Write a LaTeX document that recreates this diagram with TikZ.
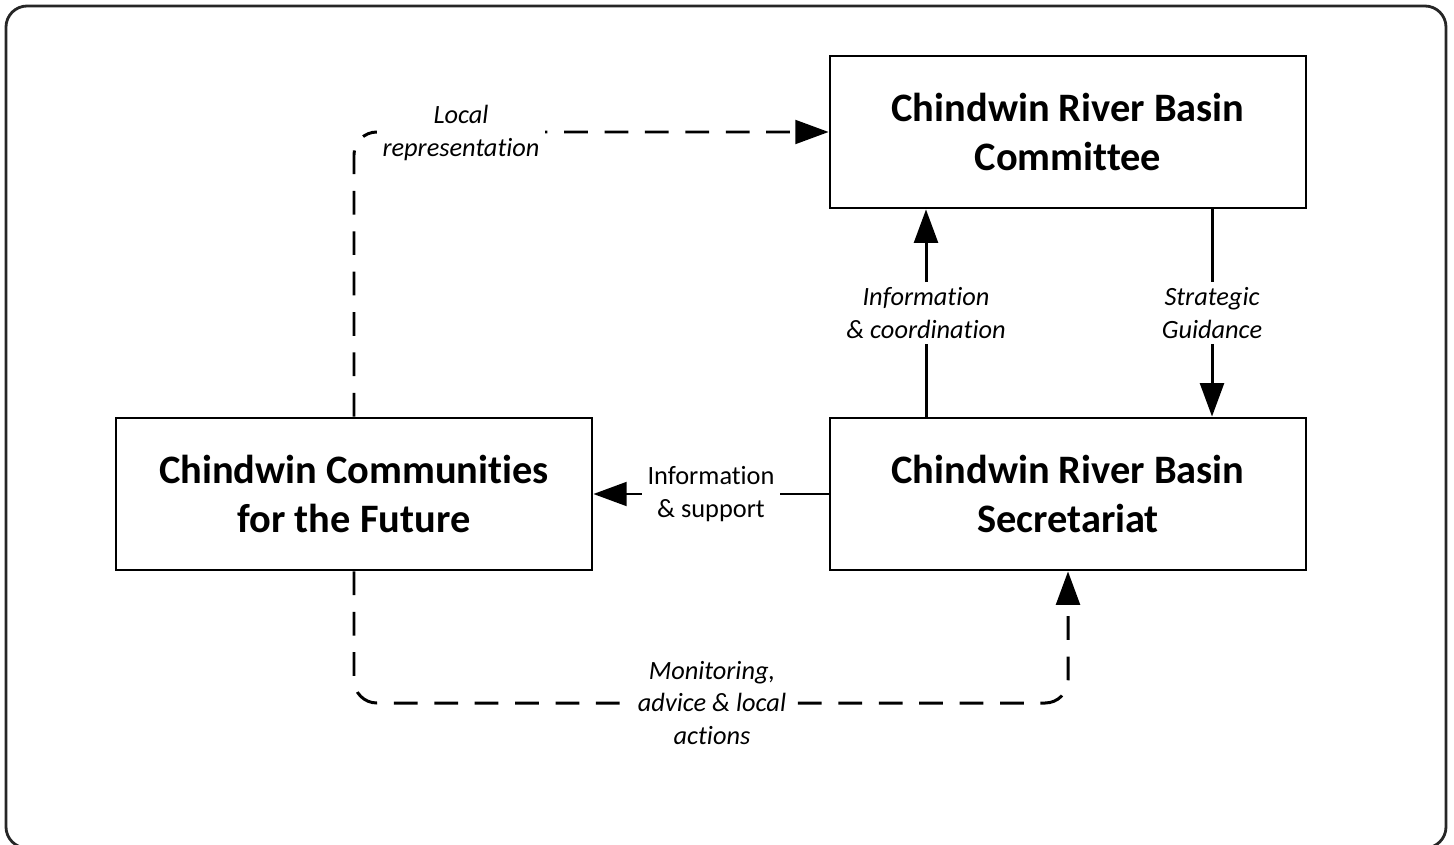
\documentclass[tikz,border=0pt]{standalone}
\usepackage{fontspec}
\setmainfont[Ligatures=NoCommon]{Carlito}
\usetikzlibrary{arrows.meta}

\begin{document}
\begin{tikzpicture}[x=0.02cm,y=0.02cm]
\tikzstyle{every node}+=[inner sep=0pt]
\tikzstyle{body}=[draw, line width=1.6pt, minimum width=9.52cm, minimum height=3.04cm, align=center, font=\fontsize{23}{28}\selectfont\bfseries]
\tikzstyle{lbl}=[fill=white, align=center, inner sep=3pt, font=\fontsize{15}{18.3}\selectfont\itshape]
\tikzstyle{flow}=[line width=1.7pt, -{Triangle[length=19pt,width=13.5pt]}]
\tikzstyle{link}=[flow, dash pattern=on 13.5pt off 9.5pt, rounded corners=13pt]
\useasboundingbox (0,0) rectangle (1454,-845);
\draw [line width=1.6pt, black!85, rounded corners=12pt] (6,-6) rectangle (1446,-848);
\node [body] (cttee) at (1068,-132) {Chindwin River Basin\\Committee};
\node [body] (secr) at (1068,-494) {Chindwin River Basin\\Secretariat};
\node [body] (ccf) at (354,-494) {Chindwin Communities\\for the Future};
\node [lbl] (infco) at (926,-313) {Information\\\& coordination};
\draw [line width=1.7pt] (secr.north -| infco) -- (infco);
\draw [flow] (infco) -- (cttee.south -| infco);
\node [lbl] (strat) at (1212,-313) {Strategic\\Guidance};
\draw [line width=1.7pt] (cttee.south -| strat) -- (strat);
\draw [flow] (strat) -- (secr.north -| strat);
\node [lbl, font=\fontsize{15}{18.3}\selectfont] (infsup) at (711,-494) {Information\\\& support};
\draw [line width=1.7pt] (secr.west) -- (infsup);
\draw [flow] (infsup) -- (ccf.east);
\draw [link] (ccf.north) |- (cttee.west);
\node [lbl] (locrep) at (461,-133) {Local\\representation};
\coordinate (mb) at (712,-703);
\draw [link] (ccf.south) |- (mb) -| (secr.south);
\node [lbl] (monit) at (mb) {Monitoring,\\advice \& local\\actions};
\end{tikzpicture}
\end{document}
